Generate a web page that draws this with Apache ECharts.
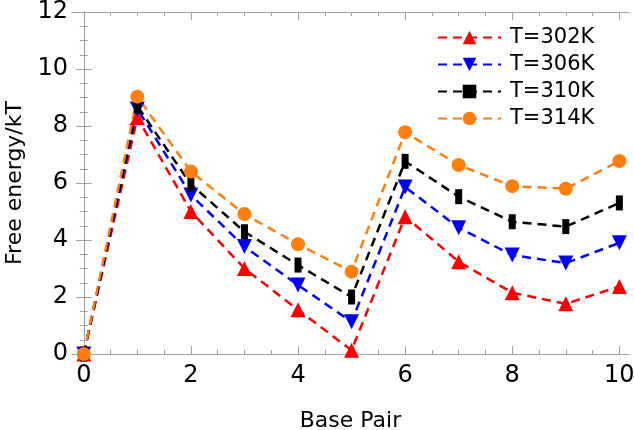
<!DOCTYPE html>
<html><head><meta charset="utf-8">
<script src="https://cdn.jsdelivr.net/npm/echarts@6/dist/echarts.min.js"></script>
<style>html,body{margin:0;padding:0;background:#fff}#c{width:634px;height:430px}</style>
</head><body><div id="c"></div>
<script>
var basePairs = [0,1,2,3,4,5,6,7,8,9,10];
var seriesNames = ['T=302K','T=306K','T=310K','T=314K'];
var t302 = [0, 8.3, 5.0, 3.0, 1.55, 0.13, 4.82, 3.24, 2.15, 1.76, 2.37];
var t306 = [0, 8.6, 5.58, 3.77, 2.42, 1.13, 5.86, 4.43, 3.47, 3.19, 3.9];
var t310 = [0, 8.7, 5.95, 4.29, 3.12, 2.0, 6.76, 5.52, 4.64, 4.47, 5.3];
var t314 = [0, 9.03, 6.4, 4.91, 3.85, 2.89, 7.78, 6.63, 5.89, 5.8, 6.77];
var xMajor = [0,2,4,6,8,10];
var xMinor = [0.5,1,1.5,2.5,3,3.5,4.5,5,5.5,6.5,7,7.5,8.5,9,9.5];
var colors = ['#ff0000','#0000ff','#000000','#ff7f0e'];

var font = 'DejaVu Sans';
var frameColor = '#a0a0a0';
function pairs(arr){ return basePairs.map(function(x,i){return [x, arr[i]];}); }

function xAx(pos, showLabel, values, len){
  return {type:'value', position:pos, min:-0.22, max:10.18,
    axisLine:{show:true, lineStyle:{color:frameColor, width:1}},
    axisTick:{show:true, inside:true, length:len, customValues:values, lineStyle:{color:frameColor}},
    axisLabel:{show:showLabel, customValues:values, color:'#000', fontFamily:font, fontSize:24, margin:10},
    splitLine:{show:false}};
}
function yAx(pos, showLabel){
  return {type:'value', position:pos, min:0, max:12, interval:2,
    axisLine:{show:true, lineStyle:{color:frameColor, width:1}},
    axisTick:{show:true, inside:true, length:8, lineStyle:{color:frameColor}},
    minorTick:{show:true, splitNumber:4, length:4, lineStyle:{color:frameColor}},
    axisLabel:{show:showLabel, color:'#000', fontFamily:font, fontSize:24, margin:4},
    splitLine:{show:false}};
}
var xAxes = [xAx('bottom', true, xMajor, 8), xAx('bottom', false, xMinor, 4), xAx('top', false, xMajor, 8), xAx('top', false, xMinor, 4)];
xAxes[0].name = 'Base Pair';
xAxes[0].nameLocation = 'middle';
xAxes[0].nameGap = 56;
xAxes[0].nameTextStyle = {color:'#000', fontFamily:font, fontSize:22};
var yAxes = [yAx('left', true), yAx('right', false)];
yAxes[0].name = 'Free energy/kT';
yAxes[0].nameLocation = 'middle';
yAxes[0].nameGap = 44;
yAxes[0].nameTextStyle = {color:'#000', fontFamily:font, fontSize:22};

var symbols = [
  {symbol:'triangle', size:15, rotate:0},
  {symbol:'triangle', size:15, rotate:180},
  {symbol:'rect', size:[7,15], rotate:0},
  {symbol:'circle', size:14, rotate:0}
];
var datas = [t302, t306, t310, t314];
var series = datas.map(function(d,i){
  return {name:seriesNames[i], type:'line', xAxisIndex:0, yAxisIndex:0,
    data:pairs(d), symbol:symbols[i].symbol, symbolSize:symbols[i].size, symbolRotate:symbols[i].rotate,
    showAllSymbol:true,
    lineStyle:{color:colors[i], width:2.5, type:[9,6]},
    itemStyle:{color:colors[i]}, animation:false};
});

var chart = echarts.init(document.getElementById('c'));
chart.setOption({
  animation:false,
  grid:{left:72, right:5, top:12, bottom:76, outerBoundsMode:'none'},
  legend:{left:437, top:27, padding:0, orient:'vertical', itemWidth:63, itemHeight:17, itemGap:6,
    textStyle:{color:'#000', fontFamily:font, fontSize:21, padding:[0,0,0,4]},
    data:seriesNames},
  xAxis:xAxes, yAxis:yAxes, series:series
});
</script></body></html>
